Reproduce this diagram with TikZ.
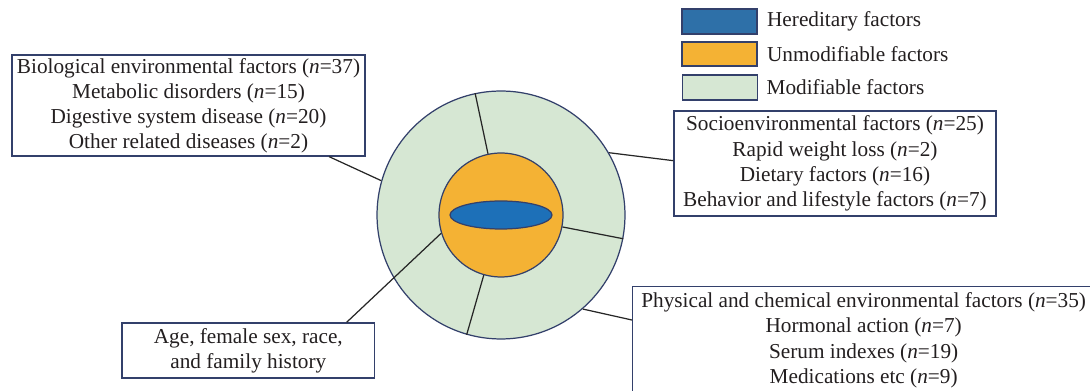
\documentclass[tikz,border=0pt]{standalone}
\usepackage{fontspec}
\setmainfont{Liberation Serif}
\usepackage{tikz}
\usetikzlibrary{shapes.geometric,positioning}

\definecolor{edgeblue}{HTML}{33406B}
\definecolor{modgreen}{HTML}{D6E7D3}
\definecolor{unmodorange}{HTML}{F4B234}
\definecolor{heredblue}{HTML}{1D70B8}
\definecolor{keyblue}{HTML}{2E70A8}
\definecolor{inktext}{HTML}{231F20}

\begin{document}
\begin{tikzpicture}
	[x=0.02cm,y=-0.02cm,font=\fontsize{12.1}{14.3}\selectfont,text=inktext,
		box/.style={draw=edgeblue,fill=white,line width=0.8pt,align=center,inner sep=0pt},
		key/.style={draw=edgeblue,line width=0.9pt,minimum width=1.5cm,minimum height=0.49cm,inner sep=0pt},
		ring/.style={circle,draw=edgeblue,line width=0.7pt,inner sep=0pt},
		link/.style={draw=black!85,line width=0.7pt}]

	\clip (0,0) rectangle (1090,391);

	% circle of factors
	\node[ring,fill=modgreen,minimum size=4.96cm]    (outer) at (501,215) {};
	\node[ring,fill=unmodorange,minimum size=2.48cm] (inner) at (501,215) {};
	\node[ellipse,draw=edgeblue,line width=0.7pt,fill=heredblue,inner sep=0pt,
		minimum width=2.04cm,minimum height=0.56cm]   (core)  at (501,215) {};

	\draw[link] (inner.102) -- (outer.102);
	\draw[link] (inner.-11) -- (outer.-11);
	\draw[link] (inner.-106.5) -- (outer.-106.5);

	% legend
	\node[key,fill=keyblue]     (hk) at (719.5,21.5) {};
	\node[key,fill=unmodorange] (uk) at (719.5,54)   {};
	\node[key,fill=modgreen]    (mk) at (720,87.5)   {};
	\node[right=0.18cm of hk,inner sep=0pt] (hl) {Hereditary factors};
	\node[right=0.18cm of uk,inner sep=0pt] (ul) {Unmodifiable factors};
	\node[right=0.16cm of mk,inner sep=0pt] (ml) {Modifiable factors};

	% boxes
	\node[box,minimum width=7.06cm,minimum height=2.02cm] (bio) at (188.5,105.5)
		{Biological environmental factors (\textit{n}=37)\\
		 Metabolic disorders (\textit{n}=15)\\
		 Digestive system disease (\textit{n}=20)\\
		 Other related diseases (\textit{n}=2)};
	\node[box,minimum width=6.44cm,minimum height=2.1cm] (socio) at (835,163.5)
		{Socioenvironmental factors (\textit{n}=25)\\
		 Rapid weight loss (\textit{n}=2)\\
		 Dietary factors (\textit{n}=16)\\
		 Behavior and lifestyle factors (\textit{n}=7)};
	\node[box,minimum width=5.06cm,minimum height=1.1cm] (age) at (248.3,350.5)
		{Age, female sex, race,\\and family history};
	\node[box,anchor=north west,minimum width=9.24cm,inner ysep=3.5pt] (phys) at (632,286)
		{Physical and chemical environmental factors (\textit{n}=35)\\
		 Hormonal action (\textit{n}=7)\\
		 Serum indexes (\textit{n}=19)\\
		 Medications etc (\textit{n}=9)};

	\path[link]
	(bio.-20)   edge (outer.164)
	(outer.30)  edge (socio.179)
	(outer.-49) edge (phys.175.5)
	(age.16)    edge (inner.197)
	;

\end{tikzpicture}
\end{document}
